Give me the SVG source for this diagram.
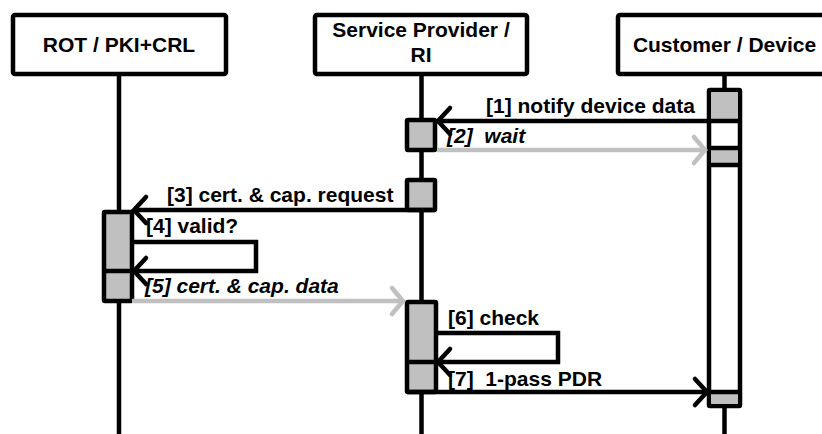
<svg xmlns="http://www.w3.org/2000/svg" width="822" height="434" viewBox="0 0 822 434">
<style>
.box{fill:#fff;stroke:#000;stroke-width:4.5;stroke-linejoin:round}
.life{stroke:#000;stroke-width:4.5;fill:none}
.act{fill:#c0c0c0;stroke:#000;stroke-width:4.5;stroke-linejoin:round}
.actw{fill:#fff;stroke:#000;stroke-width:4.5;stroke-linejoin:round}
.band{fill:#c0c0c0;stroke:none}
.div{stroke:#000;stroke-width:4.5}
.msg{stroke:#000;stroke-width:4.5;fill:none}
.ret{stroke:#c0c0c0;stroke-width:4.5;fill:none}
.hdr{font-family:"Liberation Sans",Arial,sans-serif;font-weight:bold;font-size:21px;fill:#000;text-anchor:middle}
.lbl{font-family:"Liberation Sans",Arial,sans-serif;font-weight:bold;font-size:21px;fill:#000}
.it{font-style:italic}
</style>
<defs>
<marker id="ah" markerUnits="userSpaceOnUse" viewBox="-18 -18 22 36" refX="0" refY="0" markerWidth="22" markerHeight="36" orient="auto" overflow="visible">
<path d="M -12 -13 L 0 0 L -12 13" fill="none" stroke="#000" stroke-width="4.5" stroke-linecap="round"/>
</marker>
<marker id="ahg" markerUnits="userSpaceOnUse" viewBox="-18 -18 22 36" refX="0" refY="0" markerWidth="22" markerHeight="36" orient="auto" overflow="visible">
<path d="M -11 -13 L 0 0 L -11 13" fill="none" stroke="#c0c0c0" stroke-width="4.5" stroke-linecap="round"/>
</marker>
</defs>
<rect width="822" height="434" fill="#fff"/>

<g id="rot">
<line class="life" x1="119" y1="76" x2="119" y2="434"/>
<rect class="box" x="13" y="15" width="213" height="59" rx="2"/>
<text class="hdr" x="119" y="52">ROT / PKI+CRL</text>
</g>
<g id="sp">
<line class="life" x1="421.5" y1="76" x2="421.5" y2="434"/>
<rect class="box" x="315" y="15" width="212" height="59" rx="2"/>
<text class="hdr" x="421" y="37">Service Provider /</text>
<text class="hdr" x="421" y="62">RI</text>
</g>
<g id="cust">
<line class="life" x1="724.5" y1="76" x2="724.5" y2="434"/>
<rect class="box" x="618" y="15" width="213" height="59" rx="2"/>
<text class="hdr" x="724.5" y="52">Customer / Device</text>
</g>

<g id="act-cust">
<rect class="actw" x="709" y="90" width="31" height="316" rx="1"/>
<rect class="band" x="711.25" y="92.25" width="26.5" height="28"/>
<rect class="band" x="711.25" y="150" width="26.5" height="13"/>
<rect class="band" x="711.25" y="394" width="26.5" height="9.75"/>
<line class="div" x1="709" y1="148" x2="740" y2="148"/>
<line class="div" x1="709" y1="165" x2="740" y2="165"/>
<line class="div" x1="709" y1="392" x2="740" y2="392"/>
</g>
<g id="act-sp1"><rect class="act" x="407" y="120" width="28" height="30" rx="1"/></g>
<g id="act-sp2"><rect class="act" x="407" y="180" width="28" height="30" rx="1"/></g>
<g id="act-rot">
<rect class="act" x="104" y="212" width="28" height="89" rx="1"/>
<line class="div" x1="104" y1="271" x2="132" y2="271"/>
</g>
<g id="act-sp3">
<rect class="act" x="407" y="302" width="29" height="90" rx="1"/>
<line class="div" x1="407" y1="362" x2="436" y2="362"/>
</g>

<g id="connectors">
<line class="msg" x1="740" y1="121" x2="438" y2="121" marker-end="url(#ah)"/>
<line class="ret" x1="437" y1="150" x2="705" y2="150" marker-end="url(#ahg)"/>
<line class="msg" x1="435" y1="210" x2="134" y2="210" marker-end="url(#ah)"/>
<path class="msg" d="M 132 242 H 256 V 271 H 134" marker-end="url(#ah)"/>
<line class="ret" x1="132" y1="301" x2="403" y2="301" marker-end="url(#ahg)"/>
<path class="msg" d="M 436 333 H 558 V 362 H 438" marker-end="url(#ah)"/>
<line class="msg" x1="407" y1="392" x2="707" y2="392" marker-end="url(#ah)"/>
</g>

<g id="labels">
<text class="lbl" x="486" y="113">[1] notify device data</text>
<text class="lbl it" x="447" y="143" xml:space="preserve">[2]  wait</text>
<text class="lbl" x="167" y="202">[3] cert. &amp; cap. request</text>
<text class="lbl" x="146" y="233">[4] valid?</text>
<text class="lbl it" x="145" y="293">[5] cert. &amp; cap. data</text>
<text class="lbl" x="448" y="325">[6] check</text>
<text class="lbl" x="448" y="386" xml:space="preserve">[7]  1-pass PDR</text>
</g>
</svg>
